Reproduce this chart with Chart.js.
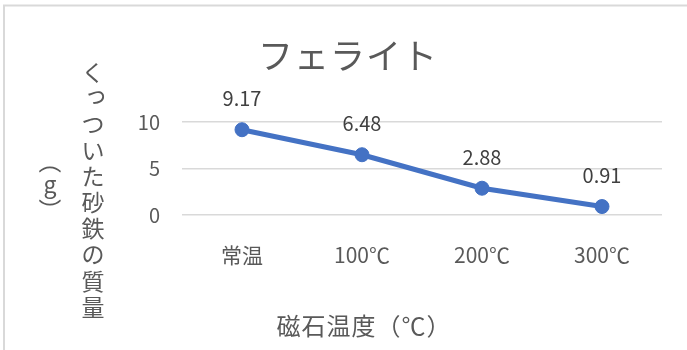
<!DOCTYPE html>
<html>
<head>
<meta charset="utf-8">
<script src="https://cdn.jsdelivr.net/npm/chart.js@4"></script>
<style>
  body { margin: 0; background: #fff; }
  canvas { display: block; }
</style>
</head>
<body>
<canvas id="myChart" width="687" height="350"></canvas>
<script>
const categories = ['常温', '100℃', '200℃', '300℃'];
const masses = [9.17, 6.48, 2.88, 0.91];
const yTicks = [0, 5, 10];

const chartTitle = 'フェライト';
const yTitle = 'くっついた砂鉄の質量';
const yUnit = ['（', 'g', '）'];
const xTitle = '磁石温度（℃）';

const JP = '"Noto Sans CJK JP", "Noto Sans", sans-serif';
const grey = '#595959';

// frame, title, axis titles and data labels are drawn by hand
const decor = {
  id: 'decor',
  beforeDraw(chart) {
    const c = chart.ctx;
    c.save();
    c.fillStyle = '#fff';
    c.fillRect(0, 0, chart.width, chart.height);
    c.strokeStyle = '#d9d9d9';
    c.lineWidth = 2;
    c.beginPath();
    c.moveTo(3, 5.5); c.lineTo(chart.width, 5.5);
    c.moveTo(4, 5); c.lineTo(4, chart.height);
    c.stroke();
    c.restore();
  },
  afterDraw(chart) {
    const c = chart.ctx;
    c.save();
    c.fillStyle = grey;
    c.textAlign = 'center';
    c.textBaseline = 'middle';

    c.font = '35px ' + JP;
    c.letterSpacing = '1px';
    c.fillText(chartTitle, 348, 56);

    // vertical y title
    c.letterSpacing = '0px';
    c.font = '23px ' + JP;
    [...yTitle].forEach((ch, i) => {
      let x = 93, y = 72 + i * 26.1;
      if (ch === 'っ') { x += 3; y -= 4; }
      c.fillText(ch, x, y);
    });
    // second column: (g)
    c.save(); c.translate(50, 162); c.rotate(Math.PI / 2); c.fillText(yUnit[0], 0, 0); c.restore();
    c.fillText(yUnit[1], 50, 184);
    c.save(); c.translate(50, 210); c.rotate(Math.PI / 2); c.fillText(yUnit[2], 0, 0); c.restore();

    c.font = '24px ' + JP;
    c.letterSpacing = '1px';
    c.fillText(xTitle, 364, 326);
    c.restore();
  },
  afterDatasetsDraw(chart) {
    const c = chart.ctx;
    const meta = chart.getDatasetMeta(0);
    c.save();
    c.fillStyle = '#404040';
    c.font = '20px ' + JP;
    c.textAlign = 'center';
    c.textBaseline = 'middle';
    meta.data.forEach((pt, i) => {
      c.fillText(masses[i].toFixed(2), pt.x, pt.y - 31);
    });
    c.restore();
  }
};

const ctx = document.getElementById('myChart');
new Chart(ctx, {
  type: 'line',
  data: {
    labels: categories,
    datasets: [{
      data: masses,
      borderColor: '#4472C4',
      backgroundColor: '#4472C4',
      borderWidth: 5,
      pointRadius: 7,
      pointBorderWidth: 1,
      tension: 0
    }]
  },
  options: {
    responsive: false,
    devicePixelRatio: 1,
    animation: false,
    layout: { padding: { top: 122, left: 0, right: 25, bottom: 75 } },
    plugins: {
      legend: { display: false },
      title: { display: false },
      tooltip: { enabled: false }
    },
    scales: {
      x: {
        offset: true,
        grid: { display: false },
        border: { display: false },
        ticks: { color: grey, font: { size: 21, family: JP }, padding: 19 },
        afterFit(scale) { scale.height = 60; }
      },
      y: {
        min: 0,
        max: 10,
        afterBuildTicks(scale) { scale.ticks = yTicks.map(v => ({ value: v })); },
        grid: { color: '#d9d9d9', lineWidth: 1.5, drawTicks: false },
        border: { display: false },
        ticks: { color: grey, font: { size: 20, family: JP }, padding: 22 },
        afterFit(scale) { scale.width = 182; }
      }
    }
  },
  plugins: [decor]
});
</script>
</body>
</html>
